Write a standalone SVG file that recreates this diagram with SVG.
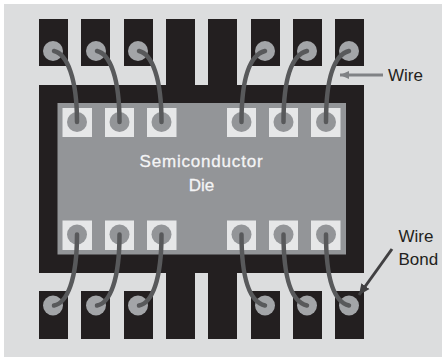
<svg xmlns="http://www.w3.org/2000/svg" width="442" height="357" viewBox="0 0 442 357">
<style>
.metal{fill:#231f20}
.pad{fill:#e6e7e8}
.padbond{fill:#939598}
.pinbond{fill:#a3a5a8}
.wire{fill:none;stroke:#58595b;stroke-width:4.5;stroke-linecap:round}
text{font-family:"Liberation Sans",Arial,sans-serif;font-size:17px;fill:#231f20}
.die{fill:#f4f4f5;stroke:#f4f4f5;stroke-width:.3;text-anchor:middle}
</style>
<defs>
<marker id="a1" markerUnits="userSpaceOnUse" markerWidth="10" markerHeight="10" refX="9" refY="5" orient="auto"><path d="M0 1L9 5L0 9z" fill="#808285"/></marker>
<marker id="a2" markerUnits="userSpaceOnUse" markerWidth="12" markerHeight="12" refX="11" refY="6" orient="auto"><path d="M0 1L11 6L0 11z" fill="#414042"/></marker>
</defs>
<rect x="4" y="4" width="438" height="353" fill="#dcddde"/>
<g id="package">
<rect class="metal" x="39" y="85" width="325" height="188"/>
<rect class="metal" x="166" y="19" width="29" height="70"/>
<rect class="metal" x="208" y="19" width="29" height="70"/>
<rect class="metal" x="166" y="270" width="29" height="69"/>
<rect class="metal" x="208" y="270" width="29" height="69"/>
</g>
<g id="die"><rect x="57.500" y="103" width="288.500" height="151.500" fill="#939598"/>
<text class="die" x="201.500" y="166.500" letter-spacing=".8">Semiconductor</text><text class="die" x="201.500" y="190.500">Die</text></g>
<g id="pins-top">
<rect class="metal" x="39" y="19" width="29" height="47"/><rect class="metal" x="81" y="19" width="29" height="47"/><rect class="metal" x="124" y="19" width="29" height="47"/><rect class="metal" x="251" y="19" width="29" height="47"/><rect class="metal" x="293" y="19" width="29" height="47"/><rect class="metal" x="335" y="19" width="29" height="47"/>
<circle class="pinbond" cx="53" cy="51" r="10"/><circle class="pinbond" cx="96" cy="51" r="10"/><circle class="pinbond" cx="138" cy="51" r="10"/><circle class="pinbond" cx="265" cy="51" r="10"/><circle class="pinbond" cx="307" cy="51" r="10"/><circle class="pinbond" cx="349" cy="51" r="10"/>
</g>
<g id="pins-bottom">
<rect class="metal" x="39" y="291" width="29" height="48"/><rect class="metal" x="81" y="291" width="29" height="48"/><rect class="metal" x="124" y="291" width="29" height="48"/><rect class="metal" x="251" y="291" width="29" height="48"/><rect class="metal" x="293" y="291" width="29" height="48"/><rect class="metal" x="335" y="291" width="29" height="48"/>
<circle class="pinbond" cx="53" cy="305.500" r="10"/><circle class="pinbond" cx="96" cy="305.500" r="10"/><circle class="pinbond" cx="138" cy="305.500" r="10"/><circle class="pinbond" cx="265" cy="305.500" r="10"/><circle class="pinbond" cx="307" cy="305.500" r="10"/><circle class="pinbond" cx="349" cy="305.500" r="10"/>
</g>
<g id="pads">
<rect class="pad" x="62.500" y="108" width="29.500" height="29"/><rect class="pad" x="105" y="108" width="29" height="29"/><rect class="pad" x="147" y="108" width="29.500" height="29"/><rect class="pad" x="227" y="108" width="29" height="29"/><rect class="pad" x="269" y="108" width="29" height="29"/><rect class="pad" x="311" y="108" width="29.500" height="29"/>
<rect class="pad" x="62.500" y="220.500" width="29.500" height="29.500"/><rect class="pad" x="105" y="220.500" width="29" height="29.500"/><rect class="pad" x="147" y="220.500" width="29.500" height="29.500"/><rect class="pad" x="227" y="220.500" width="29" height="29.500"/><rect class="pad" x="269" y="220.500" width="29" height="29.500"/><rect class="pad" x="311" y="220.500" width="29.500" height="29.500"/>
<circle class="padbond" cx="77" cy="122" r="10"/><circle class="padbond" cx="119.500" cy="122" r="10"/><circle class="padbond" cx="161.500" cy="122" r="10"/><circle class="padbond" cx="241.500" cy="122" r="10"/><circle class="padbond" cx="283.500" cy="122" r="10"/><circle class="padbond" cx="326" cy="122" r="10"/>
<circle class="padbond" cx="77" cy="234.500" r="10"/><circle class="padbond" cx="119.500" cy="234.500" r="10"/><circle class="padbond" cx="161.500" cy="234.500" r="10"/><circle class="padbond" cx="241.500" cy="234.500" r="10"/><circle class="padbond" cx="283.500" cy="234.500" r="10"/><circle class="padbond" cx="326" cy="234.500" r="10"/>
</g>
<g id="connectors">
<path class="wire" d="M54 51C67 54 77 78 77 122"/>
<path class="wire" d="M97 51C110 54 119.500 78 119.500 122"/>
<path class="wire" d="M139 51C152 54 161.500 78 161.500 122"/>
<path class="wire" d="M265 51C250 55 241.500 78 241.500 122"/>
<path class="wire" d="M307 51C292 55 283.500 78 283.500 122"/>
<path class="wire" d="M349 51C334 55 326 78 326 122"/>
<path class="wire" d="M54 305.500C67 303 77 280 77 234.500"/>
<path class="wire" d="M97 305.500C110 303 119.500 280 119.500 234.500"/>
<path class="wire" d="M139 305.500C152 303 161.500 280 161.500 234.500"/>
<path class="wire" d="M265 305.500C250 302 241.500 280 241.500 234.500"/>
<path class="wire" d="M307 305.500C292 302 283.500 280 283.500 234.500"/>
<path class="wire" d="M349 305.500C334 302 326 280 326 234.500"/>
<line x1="383" y1="75" x2="340" y2="75" stroke="#808285" stroke-width="3" marker-end="url(#a1)"/>
<line x1="392" y1="249" x2="359" y2="295" stroke="#414042" stroke-width="3" marker-end="url(#a2)"/>
</g>
<g id="labels">
<text x="388" y="81">Wire</text>
<text x="398.500" y="242">Wire</text>
<text x="398.500" y="265">Bond</text>
</g>
</svg>
